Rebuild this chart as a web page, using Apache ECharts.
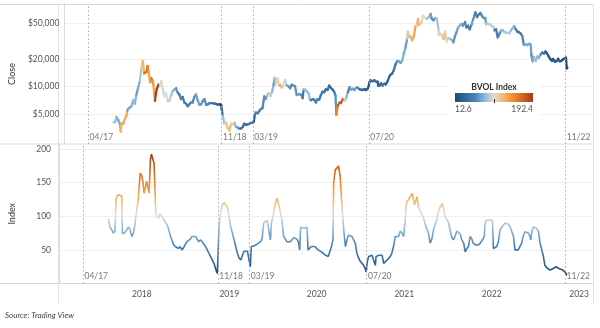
<!DOCTYPE html>
<html><head><meta charset="utf-8">
<script src="https://cdn.jsdelivr.net/npm/echarts@6/dist/echarts.min.js"></script>
<style>html,body{margin:0;padding:0;background:#fff}#chart{width:600px;height:328px}</style>
</head><body><div id="chart"></div>
<script>
// ---------------- DATA ----------------
const dates = [
 // 2017
 '2017-08-14','2017-08-21','2017-08-28','2017-09-04','2017-09-11','2017-09-15','2017-09-18','2017-09-25','2017-10-02','2017-10-09','2017-10-12','2017-10-16','2017-10-23','2017-10-30','2017-11-06','2017-11-13','2017-11-20','2017-11-27','2017-12-04','2017-12-11','2017-12-17','2017-12-22','2017-12-25',
 // 2018
 '2018-01-01','2018-01-06','2018-01-10','2018-01-17','2018-01-21','2018-01-28','2018-01-31','2018-02-06','2018-02-10','2018-02-14','2018-02-21','2018-02-28','2018-03-05','2018-03-12','2018-03-18','2018-03-25','2018-04-01','2018-04-08','2018-04-15','2018-04-22','2018-04-29','2018-05-06','2018-05-13','2018-05-20','2018-05-27','2018-06-03','2018-06-10','2018-06-17','2018-06-24','2018-07-01','2018-07-08','2018-07-15','2018-07-22','2018-07-29','2018-08-06','2018-08-13','2018-08-20','2018-08-27','2018-09-03','2018-09-10','2018-09-17','2018-09-24','2018-10-01','2018-10-08','2018-10-15','2018-10-22','2018-10-29','2018-11-05','2018-11-12','2018-11-15','2018-11-19','2018-11-26','2018-12-03','2018-12-10','2018-12-17','2018-12-24','2018-12-31',
 // 2019
 '2019-01-07','2019-01-14','2019-01-21','2019-01-28','2019-02-04','2019-02-11','2019-02-18','2019-02-25','2019-03-04','2019-03-11','2019-03-18','2019-03-25','2019-03-30','2019-04-03','2019-04-08','2019-04-15','2019-04-22','2019-04-29','2019-05-06','2019-05-13','2019-05-18','2019-05-25','2019-06-01','2019-06-08','2019-06-15','2019-06-22','2019-06-26','2019-07-01','2019-07-08','2019-07-15','2019-07-19','2019-07-26','2019-08-02','2019-08-09','2019-08-16','2019-08-23','2019-08-30','2019-09-06','2019-09-13','2019-09-20','2019-09-27','2019-10-04','2019-10-11','2019-10-18','2019-10-22','2019-10-26','2019-11-02','2019-11-09','2019-11-16','2019-11-22','2019-11-26','2019-12-03','2019-12-10','2019-12-17','2019-12-24','2019-12-31',
 // 2020
 '2020-01-07','2020-01-14','2020-01-21','2020-01-28','2020-02-04','2020-02-11','2020-02-18','2020-02-25','2020-03-03','2020-03-09','2020-03-12','2020-03-19','2020-03-26','2020-04-01','2020-04-08','2020-04-16','2020-04-23','2020-04-30','2020-05-07','2020-05-13','2020-05-20','2020-05-27','2020-06-03','2020-06-10','2020-06-17','2020-06-24','2020-07-01','2020-07-08','2020-07-15','2020-07-22','2020-07-26','2020-07-29','2020-08-05','2020-08-12','2020-08-19','2020-08-26','2020-09-02','2020-09-05','2020-09-09','2020-09-16','2020-09-23','2020-09-30','2020-10-07','2020-10-14','2020-10-21','2020-10-27','2020-11-03','2020-11-10','2020-11-17','2020-11-24','2020-12-01','2020-12-08','2020-12-15','2020-12-22','2020-12-29',
 // 2021
 '2021-01-05','2021-01-08','2021-01-12','2021-01-19','2021-01-26','2021-02-02','2021-02-09','2021-02-13','2021-02-20','2021-02-23','2021-03-01','2021-03-08','2021-03-13','2021-03-20','2021-03-27','2021-04-03','2021-04-10','2021-04-14','2021-04-19','2021-04-26','2021-05-03','2021-05-10','2021-05-17','2021-05-19','2021-05-24','2021-05-31','2021-06-07','2021-06-14','2021-06-21','2021-06-28','2021-07-05','2021-07-12','2021-07-19','2021-07-25','2021-08-01','2021-08-08','2021-08-15','2021-08-22','2021-08-29','2021-09-06','2021-09-12','2021-09-19','2021-09-26','2021-10-03','2021-10-10','2021-10-16','2021-10-20','2021-10-27','2021-11-03','2021-11-10','2021-11-17','2021-11-24','2021-12-01','2021-12-04','2021-12-08','2021-12-15','2021-12-22','2021-12-29',
 // 2022
 '2022-01-04','2022-01-08','2022-01-15','2022-01-22','2022-01-29','2022-02-05','2022-02-12','2022-02-19','2022-02-26','2022-03-05','2022-03-12','2022-03-19','2022-03-26','2022-04-02','2022-04-08','2022-04-15','2022-04-22','2022-04-29','2022-05-06','2022-05-12','2022-05-20','2022-05-27','2022-06-03','2022-06-10','2022-06-13','2022-06-18','2022-06-24','2022-07-01','2022-07-08','2022-07-15','2022-07-22','2022-07-29','2022-08-05','2022-08-11','2022-08-18','2022-08-25','2022-09-01','2022-09-08','2022-09-13','2022-09-20','2022-09-27','2022-10-04','2022-10-11','2022-10-18','2022-10-25','2022-11-01','2022-11-06','2022-11-09','2022-11-12'
];
const closePrices = [
 // 2017
 4100,4050,4650,4300,3900,3200,3950,3900,4400,4800,5400,5700,5900,6100,7100,6500,8200,9800,11500,16500,19200,14000,14200,
 // 2018
 14500,17000,14500,11200,12500,11500,10200, 7000,8300,9500,10500,10400, 11500,9100,7800,8500, 6900,7000,8000,8900,9300, 9600,8600,8200,7300, 7700,6700,6500,6100, 6400,6700,6700,7700,8200, 7000,6300,6400,7000, 7300,6300,6400,6600, 6600,6600,6500,6450,6350, 6400,6350,5600,4800,3900, 4000,3500,3300,3900,3800,
 // 2019
 4000,3600,3550,3450, 3450,3600,3900,3800, 3850,3900,4000,4000,4100, 4900,5200,5100,5400,5700, 5800,7800,7300,8000, 8500,7900,8800,10500,12500, 10700,12300,10200,10500,9800, 10500,11800,10300,10100,9600, 10500,10300,10100,8100, 8200,8300,8000,7500,9300, 9300,8800,8500,7200,7100, 7300,7200,6700,7300,7200,
 // 2020
 8100,8800,8700,9400, 9200,10300,9700,9300, 8800,7900,4900,6200,6700, 6600,7300,7100,7500,8700, 9900,9300,9500,9200, 9700,9800,9400,9300, 9200,9400,9200,9500,9900,11100, 11700,11500,11800,11400, 11400,10200,10200,10900,10300,10800, 10600,11400,12800,13600, 14000,15300,17700,19200, 19000,18300,19400,23200,27000,
 // 2021
 34000,40500,35500,36000,32500, 35500,46500,47000,56000,48500, 49500,52300,61000,58000,55800, 57500,60000,63500,56000,54000, 57000,56000,43500,37000,38500,37000, 33500,40500,31500,34500, 33800,32800,30800,35400, 39800,45000,47000,49300,47000, 51700,45000,47000,43000, 48000,55000,61000,66000,58500, 62500,65000,60000,57000, 57200,49000,50500,48800,48600,46400,
 // 2022
 46000,41800,43000,35000,38000, 41500,42200,40000,39200, 39300,38800,41800,44500, 46300,42800,40500,39700,38600, 36000,29000,29300,28700, 29800,29100,22500,19000,21200, 19300,21600,20800,22600,23800, 23200,24400,23300,21500, 20100,19300,20200,18900,19100, 20300,19000,19300,20100, 20500,20900,15900,16300
];
const bvolIndex = [
 // 2017
 96,84,80,75,78,125,129,132,131,130,74,72,76,80,84,80,70,75,90,110,125,150,164,
 // 2018
 160,150,134,145,152,140,134, 185,192.4,190,179,105, 100,97,104,102, 96,94,88,82,72, 65,58,55,54, 52,55,50,53, 58,62,60,66,70, 72,70,66,62, 65,62,58,55, 50,45,40,35,30, 22,15,40,84,105, 117,120,122,114,100,
 // 2019
 84,75,65,55, 45,38,35,42, 48,50,48,47,25, 55,57,56,58,59, 60,63,67,90, 92,94,80,65,90, 97,110,122,127,118, 107,95,70,66,62, 60,62,65,68, 70,66,60,50,84, 84,82,84,84,50, 52,55,57,55,53,
 // 2020
 50,48,47,45, 43,42,40,42, 55,65,150,169,172, 175,160,114,80,55, 65,72,71,70, 70,60,45,38, 33,30,27,22,17,30, 40,41,42,42, 27,40,42,42,43,42, 30,32,35,37, 40,45,55,70, 72,70,78,75,70,
 // 2021
 95,115,122,125,130, 134,125,117,125,129, 114,108,104,100,92, 82,78,70,60,66, 80,88,95,100,107,114, 119,112,99,95, 90,78,68,65, 70,78,80,74,65, 60,47,52,55, 70,66,60,58,57, 55,58,60,65, 70,88,94,95,94,93,
 // 2022
 94,52,53,55,62, 80,84,87,90, 92,88,84,84, 70,50,48,50,50, 60,70,77,76, 75,70,65,78,84, 84,82,78,60,50, 40,27,24,22, 20,21,22,23,25, 24,22,22,20, 18,16,13,12.6
];
const priceTicks = [5000, 10000, 20000, 50000];
const indexTicks = [50, 100, 150, 200];
const yearTicks = ['2018', '2019', '2020', '2021', '2022', '2023'];
const cycleDates = ['2017-04-30', '2018-11-14', '2019-03-26', '2020-07-27', '2022-11-03'];
const cycleLabels = ['04/17', '11/18', '03/19', '07/20', '11/22'];
const bvolRange = [12.6, 192.4];

// ---------------- CHART ----------------
if (dates.length !== closePrices.length || dates.length !== bvolIndex.length) {
  console.error('length mismatch', dates.length, closePrices.length, bvolIndex.length);
}
const toTs = d => new Date(d + 'T00:00:00').getTime();
const ts = dates.map(toTs);
const xMin = toTs('2017-01-20'), xMax = toTs('2023-02-28');
const priceMin = 2335, priceMax = 81600;
const idxMin = 0, idxMax = 207.5;
const ramp = ['#1f4a73','#336898','#4a80b2','#86b6da','#e2ded6','#f6b466','#ec8a33','#d0621f','#9e3d22'];
const FONT = 'Lato, "Open Sans", sans-serif';

const topSegments = [];
for (let i = 0; i < ts.length - 1; i++) {
  topSegments.push([ts[i], closePrices[i], bvolIndex[i], ts[i + 1], closePrices[i + 1]]);
}
const bottomData = ts.map((t, i) => [t, bvolIndex[i]]);
const cycleTs = cycleDates.map(toTs);

const dotted = { color: '#a9a9a9', type: [1.5, 2.5], width: 1 };
function cycleSeries(gi, yv) {
  return {
    type: 'scatter', xAxisIndex: gi, yAxisIndex: gi, silent: true,
    symbolSize: 1, itemStyle: { color: 'rgba(0,0,0,0)' },
    data: cycleTs.map(t => [t, yv]),
    label: { show: true, position: 'right', distance: 1, offset: [0, -7],
      formatter: p => cycleLabels[p.dataIndex], fontSize: 8.5, color: '#555', fontFamily: FONT },
    markLine: { silent: true, symbol: ['none', 'none'], label: { show: false },
      lineStyle: dotted, data: cycleTs.map(t => ({ xAxis: t })) },
    z: 2
  };
}

const axisText = { fontSize: 8.5, color: '#555', fontFamily: FONT };
const nameText = { fontSize: 9, color: '#333', fontFamily: FONT };

const option = {
  animation: false,
  backgroundColor: '#fff',
  grid: [
    { left: 58, right: 7, top: 4, height: 140 },
    { left: 58, right: 7, top: 144, height: 139.5 }
  ],
  xAxis: [
    { type: 'value', gridIndex: 0, min: xMin, max: xMax, show: false, splitLine: { show: false } },
    { type: 'value', gridIndex: 1, min: xMin, max: xMax,
      axisLine: { show: true, lineStyle: { color: '#d6d6d6' } },
      axisTick: { show: false, customValues: yearTicks.map(y => toTs(y + '-01-01')) },
      splitLine: { show: false },
      axisLabel: { customValues: yearTicks.map(y => toTs(y + '-01-01')),
        formatter: v => String(new Date(v).getFullYear()), margin: 6, ...axisText } }
  ],
  yAxis: [
    { type: 'log', logBase: 10, gridIndex: 0, min: priceMin, max: priceMax,
      name: 'Close', nameLocation: 'middle', nameGap: 42, nameTextStyle: nameText,
      axisLine: { show: true, lineStyle: { color: '#dcdcdc' } },
      axisTick: { show: false, customValues: priceTicks },
      axisLabel: { customValues: priceTicks, formatter: v => '$' + Math.round(v).toLocaleString('en-US'), margin: 5, ...axisText },
      splitLine: { show: true, lineStyle: { color: '#efefef', width: 1 } } },
    { type: 'value', gridIndex: 1, min: idxMin, max: idxMax,
      name: 'Index', nameLocation: 'middle', nameGap: 42, nameTextStyle: nameText,
      axisLine: { show: true, lineStyle: { color: '#dcdcdc' } },
      axisTick: { show: false, customValues: indexTicks },
      axisLabel: { customValues: indexTicks, margin: 8, ...axisText },
      splitLine: { show: true, lineStyle: { color: '#efefef', width: 1 } } }
  ],
  visualMap: [
    { type: 'continuous', show: false, seriesIndex: 0, dimension: 2,
      min: bvolRange[0], max: bvolRange[1], inRange: { color: ramp } },
    { type: 'continuous', show: false, seriesIndex: 1, dimension: 1,
      min: bvolRange[0], max: bvolRange[1], inRange: { color: ramp } }
  ],
  series: [
    { type: 'custom', xAxisIndex: 0, yAxisIndex: 0, silent: true, z: 3,
      dimensions: [{ name: 't0', type: 'float' }, { name: 'close', type: 'float' }, { name: 'bvol', type: 'float' },
                   { name: 't1', type: 'float' }, { name: 'close1', type: 'float' }],
      encode: { x: [0, 3], y: [1, 4] },
      data: topSegments,
      renderItem: (params, api) => {
        const a = api.coord([api.value(0), api.value(1)]);
        const b = api.coord([api.value(3), api.value(4)]);
        return { type: 'line', shape: { x1: a[0], y1: a[1], x2: b[0], y2: b[1] },
          style: { stroke: api.visual('color'), lineWidth: 2.3, lineCap: 'round' } };
      } },
    { type: 'line', xAxisIndex: 1, yAxisIndex: 1, silent: true, z: 3,
      data: bottomData, showSymbol: false, symbol: 'none',
      lineStyle: { width: 1.6 } },
    cycleSeries(0, priceMin),
    cycleSeries(1, idxMin)
  ],
  graphic: [
    { type: 'line', silent: true, shape: { x1: 0, y1: 4.5, x2: 593, y2: 4.5 }, style: { stroke: '#d9d9d9', lineWidth: 1 } },
    { type: 'line', silent: true, shape: { x1: 0, y1: 144, x2: 593, y2: 144 }, style: { stroke: '#d9d9d9', lineWidth: 1 } },
    { type: 'line', silent: true, shape: { x1: 0, y1: 283.5, x2: 593, y2: 283.5 }, style: { stroke: '#d9d9d9', lineWidth: 1 } },
    { type: 'line', silent: true, shape: { x1: 58.5, y1: 4, x2: 58.5, y2: 303 }, style: { stroke: '#e2e2e2', lineWidth: 1 } },
    { type: 'line', silent: true, shape: { x1: 593.5, y1: 4, x2: 593.5, y2: 303 }, style: { stroke: '#e2e2e2', lineWidth: 1 } },
    { type: 'rect', silent: true, z: 10, shape: { x: 448, y: 80, width: 92, height: 36 }, style: { fill: '#ffffff' } },
    { type: 'text', silent: true, z: 11, x: 494, y: 87,
      style: { text: 'BVOL Index', fontSize: 8.5, fontWeight: 'bold', fill: '#333', align: 'center', verticalAlign: 'middle', fontFamily: FONT } },
    { type: 'rect', silent: true, z: 11, shape: { x: 455, y: 93, width: 78, height: 9 },
      style: { fill: new echarts.graphic.LinearGradient(0, 0, 1, 0,
        ramp.map((c, i) => ({ offset: i / (ramp.length - 1), color: c }))) } },
    { type: 'line', silent: true, z: 12, shape: { x1: 494.5, y1: 99, x2: 494.5, y2: 103 }, style: { stroke: '#333', lineWidth: 1 } },
    { type: 'text', silent: true, z: 11, x: 455, y: 109,
      style: { text: String(bvolRange[0]), fontSize: 8.5, fill: '#555', align: 'left', verticalAlign: 'middle', fontFamily: FONT } },
    { type: 'text', silent: true, z: 11, x: 533, y: 109,
      style: { text: String(bvolRange[1]), fontSize: 8.5, fill: '#555', align: 'right', verticalAlign: 'middle', fontFamily: FONT } },
    { type: 'text', silent: true, x: 5, y: 315,
      style: { text: 'Source: Trading View', fontSize: 8, fontStyle: 'italic', fill: '#444', align: 'left', verticalAlign: 'middle', fontFamily: FONT } }
  ]
};
const chart = echarts.init(document.getElementById('chart'));
chart.setOption(option);
</script>
</body></html>
